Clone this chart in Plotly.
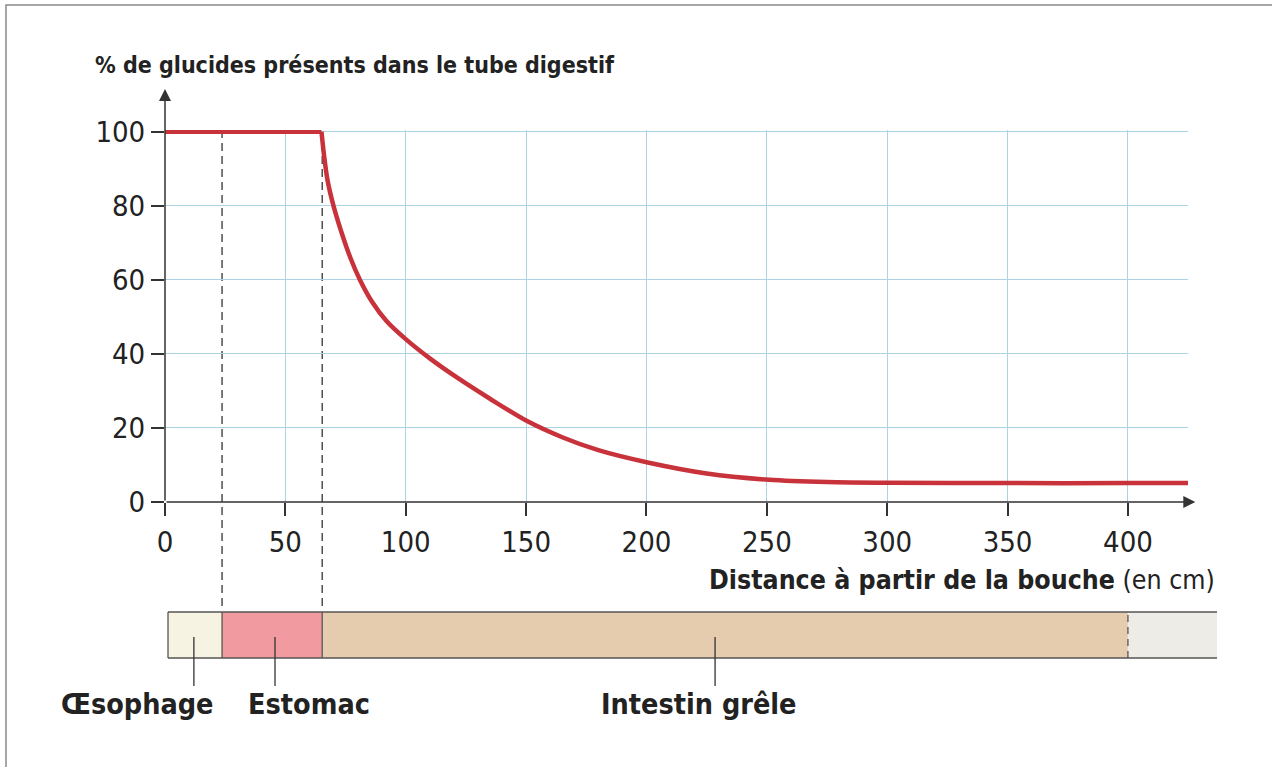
import plotly.graph_objects as go

# ---------------- data ----------------
# plateau before the stomach exit, then the decreasing curve
plateau_cm = [0, 65]
plateau_pct = [100, 100]
curve_cm = [65, 66, 67.5, 70, 73, 77, 81, 86, 92, 100, 110, 120, 135, 150,
            165, 180, 201, 225, 251, 275, 300, 350, 400, 425]
curve_pct = [100, 94, 87, 80, 73.5, 66, 60, 54.1, 48.9, 44, 38.8, 34.2, 27.9, 22,
             17.5, 14, 10.6, 7.7, 6, 5.4, 5.2, 5.1, 5.1, 5.1]

x_ticks = [0, 50, 100, 150, 200, 250, 300, 350, 400]
y_ticks = [0, 20, 40, 60, 80, 100]

organ_names = ["Œsophage", "Estomac", "Intestin grêle"]
organ_bounds = [1.25, 23.7, 65.3, 400, 437]      # cm, segment edges of the tube
organ_pointer = [12, 45.7, 228.5]                 # cm, where the label pointers sit
organ_colors = ["#f6f3e2", "#f19ba0", "#e6ccaf", "#eeece7"]
boundaries_dashed = [23.7, 65.3]                  # dashed separators in the graph

X_MAX = 425
X_ARROW = 428
Y_MAX = 100.5
Y_ARROW = 111.6
BAR_X_MAX = organ_bounds[-1]

# ---------------- layout geometry (px) ----------------
W, H = 1272, 767
L_PX, R_PX, T_PX, B_PX = 165, 1217, 130, 737
MAIN_BOTTOM_PX = 502
HP = B_PX - T_PX


def py(px):
    """pixel row -> paper y"""
    return (B_PX - px) / HP


FONT = "DejaVu Sans Condensed, DejaVu Sans, sans-serif"
INK = "#222222"
AX = "#333333"
GRID = "#acd3e3"

fig = go.Figure()

fig.add_trace(go.Scatter(
    x=plateau_cm, y=plateau_pct, mode="lines",
    line=dict(color="#c8323a", width=4.5),
    hoverinfo="skip", showlegend=False, xaxis="x", yaxis="y"))
fig.add_trace(go.Scatter(
    x=curve_cm, y=curve_pct, mode="lines",
    line=dict(color="#c8323a", width=4.5, shape="spline", smoothing=0.8),
    hoverinfo="skip", showlegend=False, xaxis="x", yaxis="y"))

# invisible trace to create the tube subplot
fig.add_trace(go.Scatter(x=[organ_bounds[0], organ_bounds[-1]], y=[0.5, 0.5],
                         mode="lines", line=dict(width=0), hoverinfo="skip",
                         showlegend=False, xaxis="x2", yaxis="y2"))

shapes = []
# dashed separators: in the graph and in the gap down to the tube
for xb in boundaries_dashed:
    shapes.append(dict(type="line", xref="x", yref="y", x0=xb, x1=xb, y0=0, y1=100,
                       line=dict(color="#333", width=1.3, dash="8px,5px"), layer="below"))
    shapes.append(dict(type="line", xref="x", yref="paper", x0=xb, x1=xb,
                       y0=py(606), y1=py(MAIN_BOTTOM_PX),
                       line=dict(color="#333", width=1.3, dash="8px,5px")))

# tube segments
for i in range(len(organ_colors)):
    shapes.append(dict(type="rect", xref="x2", yref="y2",
                       x0=organ_bounds[i], x1=organ_bounds[i + 1], y0=0, y1=1,
                       fillcolor=organ_colors[i], line=dict(width=0), layer="below"))
# tube outline
for yv in (0, 1):
    shapes.append(dict(type="line", xref="x2", yref="y2", x0=organ_bounds[0],
                       x1=organ_bounds[-1], y0=yv, y1=yv, line=dict(color="#555", width=1.5)))
for xb in organ_bounds[:3]:
    shapes.append(dict(type="line", xref="x2", yref="y2", x0=xb, x1=xb, y0=0, y1=1,
                       line=dict(color="#555", width=1.3)))
shapes.append(dict(type="line", xref="x2", yref="y2", x0=organ_bounds[3], x1=organ_bounds[3],
                   y0=0, y1=1, line=dict(color="#555", width=1.3, dash="7px,5px")))
# pointers
for xp in organ_pointer:
    shapes.append(dict(type="line", xref="x2", yref="paper", x0=xp, x1=xp,
                       y0=py(637), y1=py(686), line=dict(color="#333", width=1.3)))
# frame of the scanned picture (left and top edges)
shapes.append(dict(type="rect", xref="paper", yref="paper",
                   x0=(6 - L_PX) / (R_PX - L_PX), x1=(1300 - L_PX) / (R_PX - L_PX),
                   y0=py(800), y1=py(5), line=dict(color="#8a8a8a", width=1.5)))

annotations = []
# axis arrows
annotations.append(dict(xref="x", yref="y", axref="x", ayref="y", x=X_ARROW, y=0, ax=0, ay=0,
                        text="", showarrow=True, arrowhead=2, arrowsize=1.6, arrowwidth=1.5,
                        arrowcolor=AX, standoff=0, startstandoff=0))
annotations.append(dict(xref="x", yref="y", axref="x", ayref="y", x=0, y=Y_ARROW, ax=0, ay=0,
                        text="", showarrow=True, arrowhead=2, arrowsize=1.6, arrowwidth=1.5,
                        arrowcolor=AX, standoff=0, startstandoff=0))
# x-axis title
annotations.append(dict(xref="paper", yref="paper", x=1.0, y=py(579), xanchor="right",
                        yanchor="middle", showarrow=False,
                        text="<b>Distance à partir de la bouche</b> (en cm)",
                        font=dict(family=FONT, size=26.5, color=INK)))
# organ labels
label_shift = [-57, 34, -16]
for name, xp, sh in zip(organ_names, organ_pointer, label_shift):
    annotations.append(dict(xref="x2", yref="paper", x=xp, y=py(704), xshift=sh,
                            xanchor="center", yanchor="middle", showarrow=False,
                            text="<b>" + name + "</b>",
                            font=dict(family=FONT, size=28.5, color=INK)))

x_dom_end = X_MAX / BAR_X_MAX

fig.update_layout(
    width=W, height=H,
    margin=dict(l=L_PX, r=W - R_PX, t=T_PX, b=H - B_PX, pad=0),
    paper_bgcolor="white", plot_bgcolor="white",
    title=dict(text="<b>% de glucides présents dans le tube digestif</b>",
               xref="container", yref="container", x=95 / W, xanchor="left",
               y=1 - 65 / H, yanchor="middle",
               font=dict(family=FONT, size=23, color=INK)),
    xaxis=dict(domain=[0, x_dom_end], range=[0, X_MAX], anchor="y",
               tickmode="array", tickvals=x_ticks, ticktext=[str(v) for v in x_ticks],
               ticks="outside", ticklen=13, tickwidth=1.5, tickcolor=AX,
               ticklabelstandoff=1,
               showgrid=True, gridcolor=GRID, gridwidth=1,
               showline=False, zeroline=False,
               tickfont=dict(family=FONT, size=29, color=INK)),
    yaxis=dict(domain=[py(MAIN_BOTTOM_PX), 1], range=[0, Y_MAX], anchor="x",
               tickmode="array", tickvals=y_ticks, ticktext=[str(v) for v in y_ticks],
               ticks="outside", ticklen=13, tickwidth=1.5, tickcolor=AX,
               ticklabelstandoff=0,
               showgrid=True, gridcolor=GRID, gridwidth=1,
               showline=False, zeroline=False,
               tickfont=dict(family=FONT, size=29, color=INK)),
    xaxis2=dict(domain=[0, 1], range=[0, BAR_X_MAX], anchor="y2", visible=True,
                showgrid=False, showticklabels=False, ticks="", showline=False,
                zeroline=False),
    yaxis2=dict(domain=[py(662.6), py(607.4)], range=[-0.1, 1.1], anchor="x2",
                showgrid=False, showticklabels=False, ticks="", showline=False,
                zeroline=False),
    shapes=shapes, annotations=annotations, showlegend=False,
)

# the page's default body margin would shift the figure by 8 px
fig.write_html("out.html", config={"displayModeBar": False},
               post_script="document.body.style.margin='0px';")
